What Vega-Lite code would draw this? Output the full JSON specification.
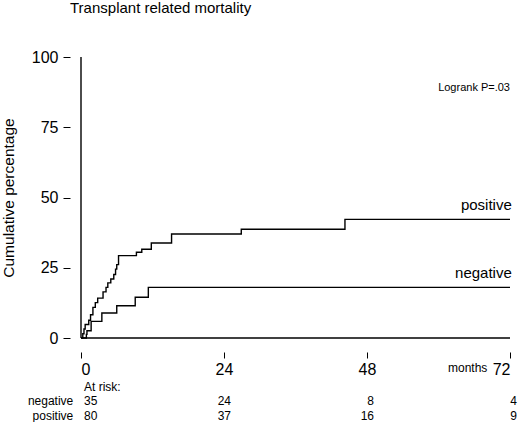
{
  "$schema": "https://vega.github.io/schema/vega-lite/v6.json",
  "width": 429,
  "height": 281,
  "autosize": {"type": "none"},
  "padding": {"left": 81, "top": 57, "right": 10, "bottom": 84},
  "background": "white",
  "config": {
    "font": "Liberation Sans",
    "view": {"stroke": null},
    "axis": {"labelFont": "Liberation Sans", "titleFont": "Liberation Sans", "labelColor": "black", "titleColor": "black", "tickColor": "black", "grid": false, "domain": false}
  },
  "title": {
    "text": "Transplant related mortality",
    "anchor": "start",
    "frame": "group",
    "dx": -11,
    "offset": 33,
    "fontSize": 15,
    "fontWeight": "normal",
    "color": "black",
    "font": "Liberation Sans"
  },
  "datasets": {
    "curves": [
      {"group": "positive", "month": 0, "pct": 0},
      {"group": "positive", "month": 0.3, "pct": 1.5},
      {"group": "positive", "month": 0.5, "pct": 3.2},
      {"group": "positive", "month": 0.7, "pct": 4.8},
      {"group": "positive", "month": 1.3, "pct": 6.3},
      {"group": "positive", "month": 1.6, "pct": 8.3},
      {"group": "positive", "month": 2.0, "pct": 10.9},
      {"group": "positive", "month": 2.4, "pct": 12.6},
      {"group": "positive", "month": 2.8, "pct": 14.2},
      {"group": "positive", "month": 3.7, "pct": 16.4},
      {"group": "positive", "month": 4.2, "pct": 18.0},
      {"group": "positive", "month": 4.5, "pct": 19.6},
      {"group": "positive", "month": 5.0, "pct": 21.0},
      {"group": "positive", "month": 5.5, "pct": 22.6},
      {"group": "positive", "month": 5.8, "pct": 24.5},
      {"group": "positive", "month": 6.0, "pct": 26.1},
      {"group": "positive", "month": 6.3, "pct": 29.3},
      {"group": "positive", "month": 9.3, "pct": 30.5},
      {"group": "positive", "month": 10.2, "pct": 31.6},
      {"group": "positive", "month": 11.8, "pct": 33.8},
      {"group": "positive", "month": 15.2, "pct": 37.0},
      {"group": "positive", "month": 26.9, "pct": 38.7},
      {"group": "positive", "month": 44.3, "pct": 42.2},
      {"group": "positive", "month": 72, "pct": 42.2},
      {"group": "negative", "month": 0, "pct": 0},
      {"group": "negative", "month": 0.9, "pct": 1.3},
      {"group": "negative", "month": 1.0, "pct": 2.6},
      {"group": "negative", "month": 1.7, "pct": 5.9},
      {"group": "negative", "month": 3.5, "pct": 8.9},
      {"group": "negative", "month": 6.0, "pct": 11.5},
      {"group": "negative", "month": 9.1, "pct": 14.5},
      {"group": "negative", "month": 11.3, "pct": 18.0},
      {"group": "negative", "month": 72, "pct": 18.0}
    ],
    "risk": [
      {"group": "negative", "month": 0, "n": 35},
      {"group": "negative", "month": 24, "n": 24},
      {"group": "negative", "month": 48, "n": 8},
      {"group": "negative", "month": 72, "n": 4},
      {"group": "positive", "month": 0, "n": 80},
      {"group": "positive", "month": 24, "n": 37},
      {"group": "positive", "month": 48, "n": 16},
      {"group": "positive", "month": 72, "n": 9}
    ],
    "notes": [
      {"label": "Logrank P=.03", "month": 72, "pct": 88.8}
    ]
  },
  "layer": [
    {
      "data": {"name": "curves"},
      "mark": {"type": "line", "interpolate": "step-after", "color": "black", "strokeWidth": 1.4, "clip": false},
      "encoding": {
        "x": {
          "field": "month", "type": "quantitative",
          "scale": {"domain": [0, 72], "nice": false, "zero": false},
          "axis": {"values": [0, 24, 48, 72], "title": null, "offset": 14, "tickSize": 6, "labelPadding": 3, "labelFontSize": 16}
        },
        "y": {
          "field": "pct", "type": "quantitative",
          "scale": {"domain": [0, 100], "nice": false},
          "axis": {"values": [0, 25, 50, 75, 100], "title": "Cumulative percentage", "offset": 11, "tickSize": 7, "labelPadding": 5, "labelFontSize": 16, "titleFontSize": 15.5, "titleFontWeight": "normal", "titlePadding": 15}
        },
        "detail": {"field": "group"}
      }
    },
    {
      "data": {"values": [{"month": 0, "lo": 0, "hi": 100}]},
      "mark": {"type": "rule", "color": "black", "strokeWidth": 1.4},
      "encoding": {"x": {"field": "month", "type": "quantitative"}, "y": {"field": "lo", "type": "quantitative"}, "y2": {"field": "hi"}}
    },
    {
      "data": {"values": [{"pct": 0, "from": 0, "to": 72}]},
      "mark": {"type": "rule", "color": "black", "strokeWidth": 1.4},
      "encoding": {"y": {"field": "pct", "type": "quantitative"}, "x": {"field": "from", "type": "quantitative"}, "x2": {"field": "to"}}
    },
    {
      "data": {"values": [{"label": "positive", "month": 72.3, "pct": 47.2}, {"label": "negative", "month": 72.3, "pct": 23.3}]},
      "mark": {"type": "text", "align": "right", "baseline": "middle", "fontSize": 15, "color": "black"},
      "encoding": {"x": {"field": "month", "type": "quantitative"}, "y": {"field": "pct", "type": "quantitative"}, "text": {"field": "label"}}
    },
    {
      "data": {"name": "notes"},
      "mark": {"type": "text", "align": "right", "baseline": "middle", "fontSize": 11, "color": "black"},
      "encoding": {"x": {"field": "month", "type": "quantitative"}, "y": {"field": "pct", "type": "quantitative"}, "text": {"field": "label"}}
    },
    {
      "data": {"values": [{"label": "months", "month": 68.2, "pct": -10.7}]},
      "mark": {"type": "text", "align": "right", "baseline": "middle", "fontSize": 12, "color": "black", "clip": false},
      "encoding": {"x": {"field": "month", "type": "quantitative"}, "y": {"field": "pct", "type": "quantitative"}, "text": {"field": "label"}}
    },
    {
      "data": {"values": [{"label": "At risk:", "month": 0.5, "pct": -17.6}]},
      "mark": {"type": "text", "align": "left", "baseline": "middle", "fontSize": 12, "color": "black"},
      "encoding": {"x": {"field": "month", "type": "quantitative"}, "y": {"field": "pct", "type": "quantitative"}, "text": {"field": "label"}}
    },
    {
      "data": {"values": [{"label": "negative", "pct": -22.5}, {"label": "positive", "pct": -27.8}]},
      "mark": {"type": "text", "align": "right", "baseline": "middle", "fontSize": 12, "color": "black"},
      "encoding": {"x": {"datum": -1.3}, "y": {"field": "pct", "type": "quantitative"}, "text": {"field": "label"}}
    },
    {
      "data": {"name": "risk"},
      "transform": [{"filter": "datum.group === 'negative' && datum.month === 0"}],
      "mark": {"type": "text", "align": "left", "baseline": "middle", "fontSize": 12, "color": "black", "dx": 3},
      "encoding": {"x": {"field": "month", "type": "quantitative"}, "y": {"datum": -22.5}, "text": {"field": "n"}}
    },
    {
      "data": {"name": "risk"},
      "transform": [{"filter": "datum.group === 'positive' && datum.month === 0"}],
      "mark": {"type": "text", "align": "left", "baseline": "middle", "fontSize": 12, "color": "black", "dx": 3},
      "encoding": {"x": {"field": "month", "type": "quantitative"}, "y": {"datum": -27.8}, "text": {"field": "n"}}
    },
    {
      "data": {"name": "risk"},
      "transform": [{"filter": "datum.group === 'negative' && datum.month > 0"}],
      "mark": {"type": "text", "align": "right", "baseline": "middle", "fontSize": 12, "color": "black", "dx": 7},
      "encoding": {"x": {"field": "month", "type": "quantitative"}, "y": {"datum": -22.5}, "text": {"field": "n"}}
    },
    {
      "data": {"name": "risk"},
      "transform": [{"filter": "datum.group === 'positive' && datum.month > 0"}],
      "mark": {"type": "text", "align": "right", "baseline": "middle", "fontSize": 12, "color": "black", "dx": 7},
      "encoding": {"x": {"field": "month", "type": "quantitative"}, "y": {"datum": -27.8}, "text": {"field": "n"}}
    }
  ]
}
